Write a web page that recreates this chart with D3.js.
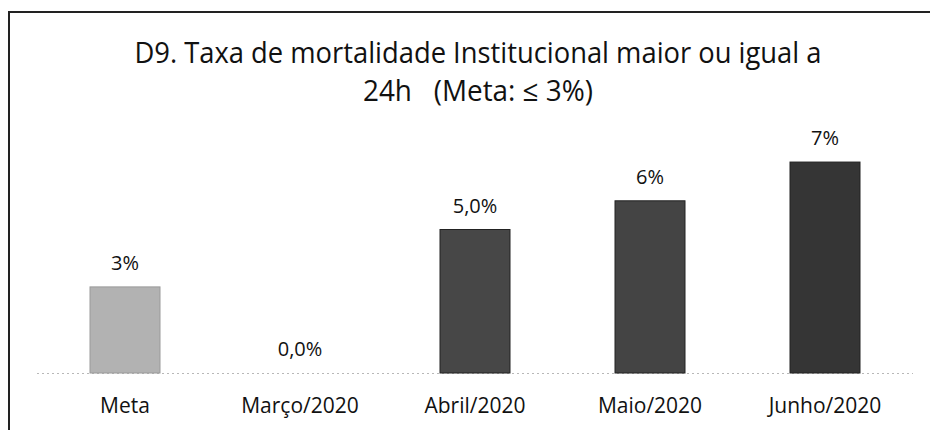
<!DOCTYPE html>
<html>
<head>
<meta charset="utf-8">
<script src="https://cdn.jsdelivr.net/npm/d3@7"></script>
<style>
  body { margin: 0; background: #fff; }
  svg { display: block; }
</style>
</head>
<body>
<div id="root"></div>
<script>
// data
var categories = ["Meta", "Março/2020", "Abril/2020", "Maio/2020", "Junho/2020"];
var values = [3.0, 0.0, 5.0, 6.0, 7.35];
var valueLabels = ["3%", "0,0%", "5,0%", "6%", "7%"];
var barColors = ["#b2b2b2", "#444444", "#474747", "#444444", "#353535"];
var titleLines = ["D9. Taxa de mortalidade Institucional maior ou igual a", "24h   (Meta: \u2264 3%)"];

var w = 930, h = 430;
var font = "'Open Sans', 'Liberation Sans', sans-serif";

var svg = d3.select("#root").append("svg")
    .attr("width", w)
    .attr("height", h);

// outer border (box runs off the right/bottom of the photo)
svg.append("path")
    .attr("d", "M9,432 L9,12 L932,12")
    .attr("fill", "none")
    .attr("stroke", "#222")
    .attr("stroke-width", 2);

// title
var titleY = [63, 101];
var titleW = [687, 230];
svg.selectAll("text.title")
    .data(titleLines)
    .enter()
    .append("text")
    .attr("class", "title")
    .attr("x", 478)
    .attr("y", function(d, i) { return titleY[i]; })
    .attr("text-anchor", "middle")
    .attr("font-family", font)
    .attr("font-size", "29px")
    .attr("fill", "#111")
    .style("white-space", "pre")
    .attr("textLength", function(d, i) { return titleW[i]; })
    .attr("lengthAdjust", "spacingAndGlyphs")
    .text(function(d) { return d; });

// scales
var x = d3.scaleBand()
    .domain(categories)
    .range([37.5, 912.5])
    .paddingInner(0.6)
    .paddingOuter(0.3);

var y = d3.scaleLinear()
    .domain([0, 8])
    .range([373, 143.4]);

// baseline
svg.append("line")
    .attr("x1", 37).attr("x2", 913)
    .attr("y1", y(0) + 0.5).attr("y2", y(0) + 0.5)
    .attr("stroke", "#b8b8b8")
    .attr("stroke-width", 1)
    .attr("stroke-dasharray", "2,3");

// bars
svg.selectAll("rect.bar")
    .data(values)
    .enter()
    .append("rect")
    .attr("class", "bar")
    .attr("x", function(d, i) { return x(categories[i]); })
    .attr("y", function(d) { return y(d); })
    .attr("width", x.bandwidth())
    .attr("height", function(d) { return y(0) - y(d); })
    .attr("fill", function(d, i) { return barColors[i]; })
    .attr("stroke", function(d, i) { return i == 0 ? "#9a9a9a" : "#222"; })
    .attr("stroke-width", function(d) { return d > 0 ? 1 : 0; });

// value labels
svg.selectAll("text.val")
    .data(values)
    .enter()
    .append("text")
    .attr("class", "val")
    .attr("x", function(d, i) { return x(categories[i]) + x.bandwidth() / 2; })
    .attr("y", function(d) { return y(d) - 17; })
    .attr("text-anchor", "middle")
    .attr("font-family", font)
    .attr("font-size", "20px")
    .attr("fill", "#111")
    .text(function(d, i) { return valueLabels[i]; });

// category axis
var axis = d3.axisBottom(x).tickSize(0).tickPadding(0);
var g = svg.append("g")
    .attr("transform", "translate(0," + 413 + ")")
    .call(axis);
g.select(".domain").remove();
g.selectAll("text")
    .attr("dy", 0)
    .attr("font-family", font)
    .attr("font-size", "21px")
    .attr("fill", "#111");
</script>
</body>
</html>
